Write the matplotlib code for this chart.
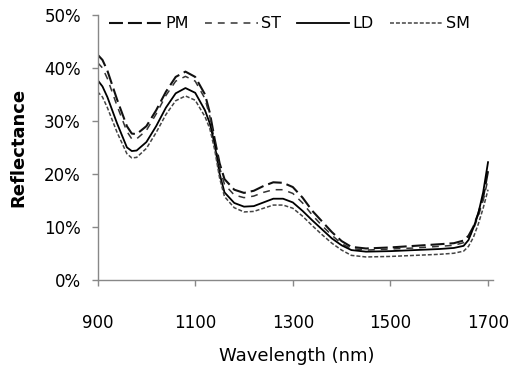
import matplotlib
matplotlib.use("Agg")
import matplotlib.pyplot as plt
from matplotlib.ticker import FuncFormatter

wavelength = [900, 910, 920, 940, 960, 970, 980, 1000, 1020, 1040, 1060, 1080,
              1100, 1120, 1130, 1140, 1150, 1160, 1180, 1200, 1220, 1240, 1260,
              1280, 1300, 1320, 1340, 1360, 1380, 1400, 1420, 1450, 1500, 1550,
              1600, 1630, 1650, 1660, 1670, 1680, 1690, 1700]

pm = [42.5, 41.5, 39.5, 34.0, 29.0, 27.6, 27.5, 29.0, 32.0, 35.5, 38.3, 39.3,
      38.3, 35.0, 31.5, 26.5, 22.0, 19.0, 17.0, 16.4, 16.8, 17.7, 18.4,
      18.3, 17.5, 15.5, 13.0, 11.0, 9.0, 7.3, 6.2, 5.9, 6.1, 6.4,
      6.7, 6.9, 7.4, 8.3, 10.0, 12.5, 15.5, 20.5]
st = [41.0, 40.0, 38.0, 32.8, 28.0, 26.6, 26.6, 28.2, 31.3, 34.8, 37.5, 38.4,
      37.5, 34.2, 30.8, 26.0, 21.2, 18.0, 16.0, 15.5, 15.8, 16.5, 17.0,
      17.0, 16.3, 14.5, 12.2, 10.2, 8.4, 6.8, 5.9, 5.6, 5.8, 6.0,
      6.3, 6.5, 7.0, 7.9, 9.5, 12.0, 15.0, 19.0]
ld = [37.7, 36.5, 34.5, 29.5, 25.0, 24.3, 24.4, 26.0, 29.0, 32.5, 35.2, 36.2,
      35.3, 32.0, 29.5, 25.5, 20.0, 16.5, 14.5, 13.8, 13.9, 14.6, 15.3,
      15.3, 14.6, 13.0, 11.2, 9.5, 7.8, 6.5, 5.6, 5.3, 5.4, 5.6,
      5.8, 6.0, 6.4, 7.5, 9.8, 12.5, 16.5, 22.2]
sm = [35.5, 34.5, 32.5, 27.8, 23.8, 23.0, 23.1, 24.8, 27.8, 31.2, 33.8, 34.7,
      33.9, 30.8, 28.5, 24.5, 19.2, 15.7, 13.6, 12.8, 12.9, 13.5, 14.1,
      14.1, 13.5, 12.0, 10.2, 8.5, 6.9, 5.6, 4.6, 4.3, 4.4, 4.6,
      4.8, 5.0, 5.4, 6.3, 8.0, 10.5, 13.5, 17.0]

labels = ["PM", "ST", "LD", "SM"]

plt.rcParams['font.family'] = ['DejaVu Sans']

fig = plt.figure(figsize=(5.11, 3.71), dpi=100)
ax = fig.add_axes([0.191, 0.246, 0.7736, 0.7137])

ax.plot(wavelength, [v / 100 for v in pm], color='#111111', lw=1.5, dashes=(6.7, 2.4), label=labels[0])
ax.plot(wavelength, [v / 100 for v in st], color='#333333', lw=1.1, dashes=(4.5, 3.9), label=labels[1])
ax.plot(wavelength, [v / 100 for v in ld], color='black', lw=1.3, label=labels[2])
ax.plot(wavelength, [v / 100 for v in sm], color='#444444', lw=1.1, dashes=(2.6, 1.3), label=labels[3])

ax.set_xlim(900, 1710)
ax.set_ylim(0, 0.5)
ax.set_xticks([900, 1100, 1300, 1500, 1700])
ax.set_yticks([0, 0.1, 0.2, 0.3, 0.4, 0.5])
ax.yaxis.set_major_formatter(FuncFormatter(lambda v, p: f"{v * 100:.0f}%"))

for s in ['top', 'right']:
    ax.spines[s].set_visible(False)
for s in ['left', 'bottom']:
    ax.spines[s].set_color('#888888')
    ax.spines[s].set_linewidth(1.0)
ax.tick_params(axis='x', length=4.5, width=1, color='#888888', pad=20, labelsize=12)
ax.tick_params(axis='y', length=4, width=1, color='#888888', pad=8, labelsize=12)

ax.set_xlabel("Wavelength (nm)", fontsize=13)
ax.xaxis.set_label_coords(0.505, -0.255)
ax.set_ylabel("Reflectance", fontsize=13, fontweight='bold')
ax.yaxis.set_label_coords(-0.178, 0.5)

ax.legend(loc='upper left', bbox_to_anchor=(0.03, 0.995), ncol=4, frameon=False,
          fontsize=11.5, handlelength=3.3, handletextpad=0.2, columnspacing=1.0,
          borderaxespad=0.0, borderpad=0.0)

fig.savefig("out.png", dpi=100)
